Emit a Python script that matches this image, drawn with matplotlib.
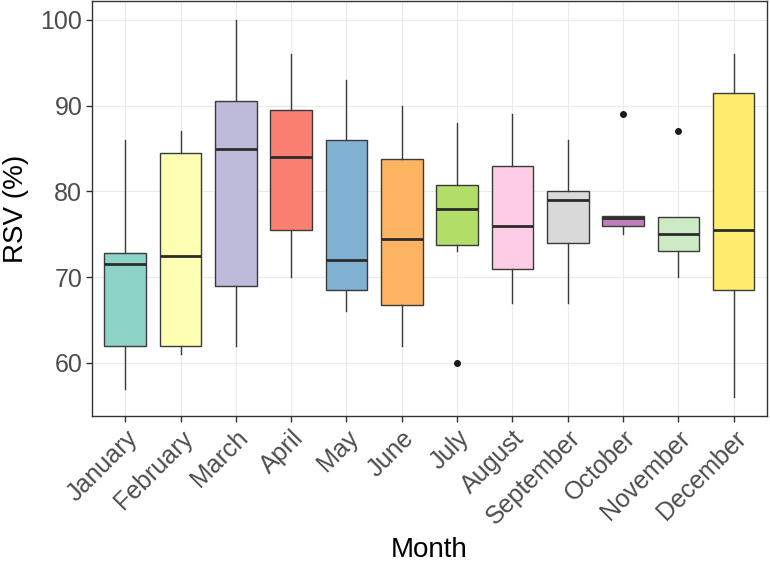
import matplotlib
matplotlib.use("Agg")
import matplotlib.pyplot as plt

# ========== 数据 ==========
months = ["January", "February", "March", "April", "May", "June",
          "July", "August", "September", "October", "November", "December"]
whisker_low = [57, 61, 62, 70, 66, 62, 73, 67, 67, 75, 70, 56]
q1          = [62, 62, 69, 75.5, 68.5, 66.8, 73.7, 71, 74, 76, 73, 68.5]
medians     = [71.5, 72.5, 85, 84, 72, 74.5, 78, 76, 79, 76.9, 75, 75.5]
q3          = [72.8, 84.5, 90.5, 89.5, 86, 83.8, 80.8, 83, 80, 77.1, 77, 91.5]
whisker_hi  = [86, 87, 100, 96, 93, 90, 88, 89, 86, 77.1, 77, 96]
outliers    = [[], [], [], [], [], [], [60], [], [], [89], [87], []]

colors = ["#8DD3C7", "#FFFFB3", "#BEBADA", "#FB8072", "#80B1D3", "#FDB462",
          "#B3DE69", "#FCCDE5", "#D9D9D9", "#BC80BD", "#CCEBC5", "#FFED6F"]

plt.rcParams["font.family"] = ["Liberation Sans", "DejaVu Sans"]

fig = plt.figure(figsize=(7.7, 5.63), dpi=100)
ax = fig.add_axes([0.1195, 0.261, 0.8765, 0.737])

stats = []
for i, m in enumerate(months):
    stats.append(dict(label=m, whislo=whisker_low[i], q1=q1[i], med=medians[i],
                      q3=q3[i], whishi=whisker_hi[i], fliers=outliers[i]))

pos = list(range(1, len(months) + 1))
edge = "#3a3a3a"
bp = ax.bxp(stats, positions=pos, widths=0.75, patch_artist=True, showcaps=False,
            boxprops=dict(edgecolor=edge, linewidth=1.0),
            whiskerprops=dict(color=edge, linewidth=1.0),
            medianprops=dict(color="#2b2b2b", linewidth=2.0),
            flierprops=dict(marker="o", markerfacecolor="#1a1a1a", markeredgecolor="#1a1a1a",
                            markersize=4, linestyle="none"))
for patch, c in zip(bp["boxes"], colors):
    patch.set_facecolor(c)
    patch.set_zorder(2)
for ln in bp["whiskers"] + bp["medians"] + bp["fliers"]:
    ln.set_zorder(3)

# 坐标轴
ax.set_xlim(0.4, 12.6)
ax.set_ylim(53.8, 102.2)
ax.set_yticks([60, 70, 80, 90, 100])
ax.set_xticks(pos)
ax.set_xticklabels(months, rotation=45, ha="right", rotation_mode="anchor")

ax.grid(True, color="#EBEBEB", linewidth=0.8, zorder=0)
ax.set_axisbelow(True)
for s in ax.spines.values():
    s.set_color("#333333")
    s.set_linewidth(1.0)

ax.tick_params(axis="both", length=4, width=1.0, color="#333333",
               labelcolor="#4D4D4D", labelsize=18, pad=3)

ax.set_xlabel("Month", fontsize=20, labelpad=6)
ax.set_ylabel("RSV (%)", fontsize=20, labelpad=8)

fig.savefig("out.png", dpi=100)
